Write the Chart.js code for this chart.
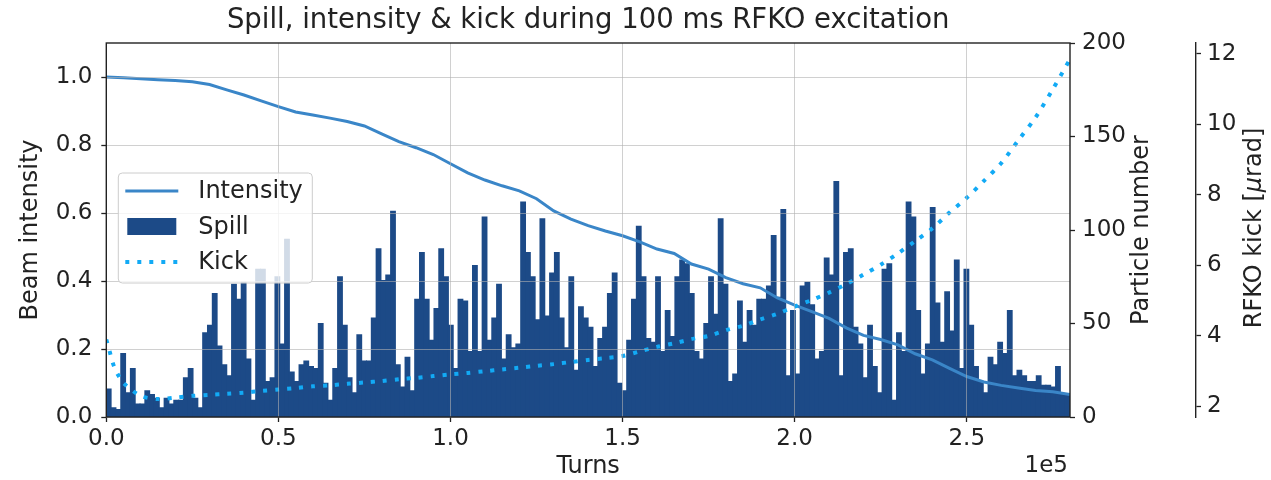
<!DOCTYPE html>
<html>
<head>
<meta charset="utf-8">
<title>Spill, intensity &amp; kick</title>
<script src="https://cdn.jsdelivr.net/npm/chart.js@4.4.1/dist/chart.umd.min.js"></script>
<style>
  html, body { margin: 0; padding: 0; background: #fff; }
  #wrap { width: 1271px; height: 480px; }
</style>
</head>
<body>
<div id="wrap"><canvas id="spillChart"></canvas></div>
<script>
// extracted particles per bin (200 bins of 1400 turns)
const binWidth = 1400;
const spillCounts = [
  15, 5, 4, 34, 13, 26, 7, 7, 14, 12,
  10, 5, 10, 7, 9, 9, 21, 26, 10, 5,
  45, 49, 66, 38, 28, 22, 71, 63, 72, 31,
  9, 79, 79, 19, 21, 75, 39, 95, 24, 19,
  28, 30, 27, 26, 50, 18, 9, 26, 75, 49,
  21, 13, 44, 30, 30, 53, 90, 73, 76, 110,
  28, 16, 32, 14, 63, 88, 63, 41, 58, 90,
  75, 49, 26, 63, 62, 35, 81, 35, 107, 41,
  53, 71, 31, 44, 37, 39, 115, 88, 75, 52,
  106, 54, 77, 88, 53, 37, 75, 25, 59, 53,
  48, 27, 42, 48, 66, 77, 18, 14, 41, 63,
  102, 75, 42, 40, 75, 35, 57, 43, 75, 84,
  82, 66, 35, 31, 50, 75, 55, 106, 71, 19,
  23, 62, 40, 57, 49, 63, 63, 70, 97, 64,
  111, 22, 57, 23, 70, 72, 60, 31, 35, 85,
  76, 126, 22, 88, 90, 48, 39, 21, 49, 27,
  13, 79, 82, 9, 45, 35, 115, 107, 57, 23,
  39, 112, 61, 40, 67, 46, 84, 26, 79, 49,
  27, 19, 13, 32, 28, 40, 34, 57, 22, 25,
  22, 19, 19, 22, 17, 17, 16, 27, 12, 12
];

// normalised beam intensity, every 5000 turns
const intensityTurns = [
  0, 5000, 10000, 15000, 20000, 25000, 30000, 35000, 40000, 45000,
  50000, 55000, 60000, 65000, 70000, 75000, 80000, 85000, 90000, 95000,
  100000, 105000, 110000, 115000, 120000, 125000, 130000, 135000, 140000, 145000,
  150000, 155000, 160000, 165000, 170000, 175000, 180000, 185000, 190000, 195000,
  200000, 205000, 210000, 215000, 220000, 225000, 230000, 235000, 240000, 245000,
  250000, 255000, 260000, 265000, 270000, 275000, 280000
];
const intensity = [
  1.000, 0.998, 0.995, 0.992, 0.990, 0.986, 0.978, 0.962, 0.947, 0.930,
  0.913, 0.897, 0.888, 0.879, 0.869, 0.856, 0.833, 0.810, 0.792, 0.772,
  0.745, 0.718, 0.697, 0.680, 0.665, 0.642, 0.606, 0.582, 0.563, 0.547,
  0.533, 0.515, 0.494, 0.481, 0.450, 0.435, 0.410, 0.392, 0.380, 0.350,
  0.329, 0.310, 0.290, 0.262, 0.240, 0.228, 0.212, 0.186, 0.168, 0.143,
  0.119, 0.103, 0.093, 0.085, 0.078, 0.074, 0.066
];

// RFKO kick amplitude in urad
const kickTurns = [
  0, 1000, 2000, 3500, 5000, 10000, 15000, 20000, 25000, 30000,
  35000, 40000, 45000, 50000, 55000, 60000, 65000, 70000, 75000, 80000,
  85000, 90000, 95000, 100000, 105000, 110000, 115000, 120000, 125000, 130000,
  135000, 140000, 145000, 150000, 155000, 160000, 165000, 170000, 175000, 180000,
  185000, 190000, 195000, 200000, 205000, 210000, 215000, 220000, 225000, 230000,
  235000, 240000, 245000, 250000, 255000, 260000, 265000, 270000, 275000, 280000
];
const kick = [
  3.90, 3.55, 3.20, 2.88, 2.66, 2.30, 2.21, 2.25, 2.30, 2.33,
  2.36, 2.39, 2.44, 2.48, 2.52, 2.57, 2.60, 2.64, 2.68, 2.72,
  2.77, 2.81, 2.86, 2.91, 2.95, 3.00, 3.05, 3.10, 3.15, 3.20,
  3.26, 3.32, 3.37, 3.43, 3.56, 3.69, 3.79, 3.91, 4.00, 4.16,
  4.29, 4.47, 4.63, 4.83, 5.02, 5.23, 5.47, 5.74, 6.02, 6.34,
  6.69, 7.05, 7.50, 7.92, 8.40, 8.90, 9.55, 10.20, 11.00, 11.85
];

const turnTicks = [0, 50000, 100000, 150000, 200000, 250000];
const intensityTicks = [0, 0.2, 0.4, 0.6, 0.8, 1.0];
const particleTicks = [0, 50, 100, 150, 200];
const kickTicks = [2, 4, 6, 8, 10, 12];

const FONT = 'DejaVu Sans';
const INK = '#222222';
const SPILL_COLOR = '#1c4a87';
const INT_COLOR = '#3a86c8';
const KICK_COLOR = '#12aaf5';

function fixedTicks(list) {
  return function (scale) {
    scale.ticks = list.map(v => ({ value: v }));
  };
}

// frame, in-axes legend, right hand axis titles and the x offset text
const overlay = {
  id: 'overlay',
  afterDraw(chart) {
    const { ctx, chartArea: a } = chart;
    ctx.save();

    ctx.strokeStyle = INK;
    ctx.lineWidth = 1.4;
    ctx.strokeRect(a.left, a.top, a.right - a.left, a.bottom - a.top);

    // legend box, centre left
    const lx = a.left + 12, lw = 194, lh = 110;
    const ly = (a.top + a.bottom) / 2 - lh / 2 - 2;
    ctx.beginPath();
    ctx.roundRect(lx, ly, lw, lh, 4);
    ctx.fillStyle = 'rgba(255,255,255,0.8)';
    ctx.fill();
    ctx.strokeStyle = '#cccccc';
    ctx.lineWidth = 1;
    ctx.stroke();

    const ds = chart.data.datasets;
    const rows = [ly + 18, ly + 54, ly + 89];
    const order = [1, 0, 2];
    ctx.font = '24px "' + FONT + '"';
    ctx.textBaseline = 'middle';
    ctx.textAlign = 'left';
    order.forEach((di, r) => {
      const d = ds[di];
      const y = rows[r];
      if (d.type === 'bar') {
        ctx.fillStyle = d.backgroundColor;
        ctx.fillRect(lx + 9, y - 9, 49, 17);
      } else {
        ctx.beginPath();
        ctx.setLineDash(d.borderDash || []);
        ctx.lineWidth = d.borderWidth;
        ctx.strokeStyle = d.borderColor;
        ctx.moveTo(lx + 7, y);
        ctx.lineTo(lx + 60, y);
        ctx.stroke();
        ctx.setLineDash([]);
      }
      ctx.fillStyle = INK;
      ctx.fillText(d.label, lx + 80, y + 1);
    });

    // titles on the right read bottom to top
    const midY = (a.top + a.bottom) / 2;
    drawVertical(ctx, [{ text: 'Particle number', font: '24px "' + FONT + '"' }], a.right + 72, midY);
    drawVertical(ctx, [
      { text: 'RFKO kick [', font: '24px "' + FONT + '"' },
      { text: '\u03bc', font: 'italic 24px "' + FONT + '"' },
      { text: 'rad]', font: '24px "' + FONT + '"' }
    ], a.right + 185, midY - 2);

    ctx.font = '23px "' + FONT + '"';
    ctx.fillStyle = INK;
    ctx.textAlign = 'right';
    ctx.textBaseline = 'middle';
    ctx.fillText('1e5', a.right - 2, 466);

    ctx.restore();
  }
};

function drawVertical(ctx, parts, x, yMid) {
  ctx.save();
  ctx.translate(x, yMid);
  ctx.rotate(-Math.PI / 2);
  let total = 0;
  parts.forEach(p => {
    ctx.font = p.font;
    p.w = ctx.measureText(p.text).width;
    total += p.w;
  });
  let cx = -total / 2;
  ctx.fillStyle = INK;
  ctx.textBaseline = 'middle';
  ctx.textAlign = 'left';
  parts.forEach(p => {
    ctx.font = p.font;
    ctx.fillText(p.text, cx, 0);
    cx += p.w;
  });
  ctx.restore();
}

function loadChart() {
  const ctx = document.getElementById('spillChart').getContext('2d');
  Chart.defaults.font.family = FONT;
  Chart.defaults.color = INK;

  const tickFont = { size: 23 };
  const gridColor = 'rgba(176,176,176,0.6)';

  const config = {
    type: 'bar',
    data: {
      datasets: [
        {
          type: 'bar',
          label: 'Spill',
          data: spillCounts.map((c, i) => ({ x: (i + 0.5) * binWidth, y: c })),
          backgroundColor: SPILL_COLOR,
          borderWidth: 0,
          barPercentage: 1.0,
          categoryPercentage: 1.0,
          inflateAmount: 0.5,
          yAxisID: 'y2',
          order: 3
        },
        {
          type: 'line',
          label: 'Intensity',
          data: intensityTurns.map((t, i) => ({ x: t, y: intensity[i] })),
          borderColor: INT_COLOR,
          borderWidth: 3,
          pointRadius: 0,
          tension: 0,
          yAxisID: 'y',
          order: 2
        },
        {
          type: 'line',
          label: 'Kick',
          data: kickTurns.map((t, i) => ({ x: t, y: kick[i] })),
          borderColor: KICK_COLOR,
          borderWidth: 4,
          borderDash: [4, 8],
          borderCapStyle: 'butt',
          pointRadius: 0,
          tension: 0.3,
          yAxisID: 'y3',
          order: 1
        }
      ]
    },
    options: {
      responsive: true,
      maintainAspectRatio: false,
      animation: false,
      layout: { padding: 0 },
      plugins: {
        legend: { display: false },
        tooltip: { enabled: false },
        title: {
          display: true,
          text: 'Spill, intensity & kick during 100 ms RFKO excitation',
          fullSize: false,
          color: INK,
          font: { size: 27.5, weight: 'normal' },
          padding: { top: 4, bottom: 6 }
        }
      },
      scales: {
        x: {
          type: 'linear',
          min: 0,
          max: 280000,
          offset: false,
          afterBuildTicks: fixedTicks(turnTicks),
          afterFit: s => { s.height = 63; },
          ticks: {
            font: tickFont,
            padding: 3,
            maxRotation: 0,
            autoSkip: false,
            callback: v => (v / 1e5).toFixed(1)
          },
          grid: {
            offset: false,
            color: gridColor,
            lineWidth: 1,
            tickLength: 5,
            tickColor: INK,
            tickWidth: 1.3,
            z: 1
          },
          border: { display: false },
          title: {
            display: true,
            text: 'Turns',
            font: { size: 24, lineHeight: 1.1 },
            padding: 0
          }
        },
        y: {
          position: 'left',
          min: 0,
          max: 1.1,
          afterBuildTicks: fixedTicks(intensityTicks),
          afterFit: s => { s.width = 106.3; },
          ticks: {
            font: tickFont,
            padding: 9,
            callback: v => v.toFixed(1)
          },
          grid: {
            color: gridColor,
            lineWidth: 1,
            tickLength: 5,
            tickColor: INK,
            tickWidth: 1.3,
            z: 1
          },
          border: { display: false },
          title: {
            display: true,
            text: 'Beam intensity',
            font: { size: 24 },
            padding: { top: 16, bottom: 0 }
          }
        },
        y2: {
          position: 'right',
          weight: 0,
          min: 0,
          max: 200,
          afterBuildTicks: fixedTicks(particleTicks),
          afterFit: s => { s.width = 126; },
          ticks: { font: tickFont, padding: 7 },
          grid: {
            drawOnChartArea: false,
            tickLength: 5,
            tickColor: INK,
            tickWidth: 1.3
          },
          border: { display: false }
        },
        y3: {
          position: 'right',
          weight: 1,
          min: 1.70,
          max: 12.31,
          afterBuildTicks: fixedTicks(kickTicks),
          afterFit: s => { s.width = 75; },
          ticks: { font: tickFont, padding: 6 },
          grid: {
            drawOnChartArea: false,
            tickLength: 5,
            tickColor: INK,
            tickWidth: 1.3
          },
          border: { display: true, color: INK, width: 1.4 }
        }
      }
    },
    plugins: [overlay]
  };

  new Chart(ctx, config);
}

document.addEventListener('DOMContentLoaded', loadChart);
</script>
</body>
</html>
